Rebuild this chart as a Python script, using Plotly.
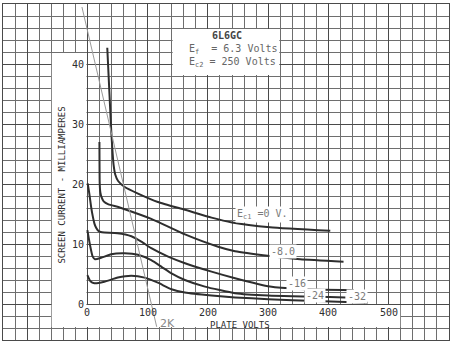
import plotly.graph_objects as go

# Screen current characteristics, 6L6GC (plate volts vs. screen mA)
v_0 = [33, 39.5, 43.5, 46.5, 51, 62, 84, 117, 162, 206, 240, 303, 403]
i_0 = [42.7, 29, 23.2, 21.5, 20.5, 19.5, 18.4, 17.0, 15.7, 14.4, 13.6, 12.8, 12.2]

v_8 = [20, 20.5, 21.5, 23.5, 27, 35, 50, 62, 106, 162, 217, 245, 303, 353, 425]
i_8 = [27, 20, 18.6, 17.8, 17.1, 16.6, 16.2, 15.8, 14.2, 11.6, 9.55, 8.8, 8.0, 7.45, 7.05]

v_16 = [0.5, 3.5, 6.2, 9, 11.7, 14.5, 17.2, 22, 28, 50, 73, 89.5, 106, 134, 162, 206, 245, 303, 350, 442]
i_16 = [20.1, 18.2, 16.2, 14.6, 13.4, 12.7, 12.3, 12.0, 11.9, 11.8, 11.3, 10.4, 9.3, 7.9, 6.8, 5.4, 4.3, 2.9, 2.5, 2.3]

v_24 = [0, 4, 8.8, 12.8, 22.8, 39.5, 61.7, 84, 106, 123, 139.5, 161.7, 195, 245, 300, 428]
i_24 = [12.3, 10.0, 7.9, 7.45, 7.7, 8.3, 8.45, 8.2, 7.3, 6.2, 5.1, 4.0, 2.9, 1.8, 1.4, 1.1]

v_32 = [0, 5, 11.7, 28, 50.5, 72.8, 95, 117, 139.5, 161.7, 206, 245, 300, 380, 465]
i_32 = [4.8, 3.8, 3.45, 3.7, 4.4, 4.7, 4.4, 3.55, 2.45, 1.9, 1.4, 1.1, 0.8, 0.5, 0.2]

# 2K load line
load_v = [-9, 115]
load_i = [49.5, -3.8]

x_ticks = [0, 100, 200, 300, 400, 500]
y_ticks = [0, 10, 20, 30, 40]

curve_labels = ["E<sub>c1</sub> =0 V.", "-8.0", "-16", "-24", "-32"]
label_v = [290, 325, 347, 378, 448]
label_i = [15.0, 8.7, 3.4, 1.5, 1.2]

INK = "#2e2e2e"
GREY_TXT = "#7a7a7a"
MONO = "DejaVu Sans Mono"

fig = go.Figure()

for vs, cs in [(v_0, i_0), (v_8, i_8), (v_16, i_16), (v_24, i_24), (v_32, i_32)]:
    fig.add_trace(go.Scatter(x=vs, y=cs, mode="lines",
                             line=dict(color=INK, width=2, shape="spline", smoothing=0.5),
                             hoverinfo="skip", showlegend=False))

fig.add_trace(go.Scatter(x=load_v, y=load_i, mode="lines",
                         line=dict(color="#9a9a9a", width=1),
                         hoverinfo="skip", showlegend=False))

# White panels over the graph paper
panels = [
    (-59, 519, -3.85, -0.15),   # x-axis label band
    (-59, -1.5, -3.85, 41.85),  # y-axis label band
    (141.5, 318.5, 38.15, 45.85),  # type data box
]
for x0, x1, y0, y1 in panels:
    fig.add_shape(type="rect", xref="x", yref="y", x0=x0, x1=x1, y0=y0, y1=y1,
                  fillcolor="white", line=dict(width=0), layer="between")

ann = []
for t in y_ticks:
    ann.append(dict(x=-2, y=t, text=str(t), xanchor="right", yanchor="middle",
                    showarrow=False, font=dict(family=MONO, size=10, color=INK)))
for t in x_ticks:
    ann.append(dict(x=t, y=-1.4, text=str(t), xanchor="center", yanchor="middle",
                    showarrow=False, font=dict(family=MONO, size=10, color=INK)))
for txt, lv, li in zip(curve_labels, label_v, label_i):
    ann.append(dict(x=lv, y=li, text=txt, xanchor="center", yanchor="middle",
                    showarrow=False, bgcolor="white", borderpad=1,
                    font=dict(family=MONO, size=10, color=GREY_TXT)))

ann += [
    dict(x=253, y=-3.5, text="PLATE VOLTS", showarrow=False, xanchor="center", yanchor="middle",
         font=dict(family=MONO, size=9, color=INK)),
    dict(x=-41.5, y=19.8, text="SCREEN CURRENT - MILLIAMPERES", textangle=-90, showarrow=False,
         xanchor="center", yanchor="middle", font=dict(family=MONO, size=9, color=INK)),
    dict(x=232, y=44.8, text="<b>6L6GC</b>", showarrow=False, xanchor="center", yanchor="middle",
         font=dict(family=MONO, size=10, color="#444")),
    dict(x=165, y=42.4, text="E<sub>f</sub>  = 6.3 Volts", showarrow=False, xanchor="left",
         yanchor="middle", font=dict(family=MONO, size=10, color="#666")),
    dict(x=165, y=40.2, text="E<sub>c2</sub> = 250 Volts", showarrow=False, xanchor="left",
         yanchor="middle", font=dict(family=MONO, size=10, color="#666")),
    dict(x=133, y=-3.2, text="2K", showarrow=False, xanchor="center", yanchor="middle",
         font=dict(family="DejaVu Sans", size=11, color="#888")),
]

fig.update_layout(
    width=455, height=348,
    margin=dict(l=3, r=6, t=4, b=8),
    paper_bgcolor="white", plot_bgcolor="white",
    annotations=ann,
    xaxis=dict(range=[-140, 600], tick0=0, dtick=100, showgrid=True,
               gridcolor="#4a4a4a", gridwidth=1, zeroline=False,
               showticklabels=False, ticks="",
               showline=True, mirror=True, linecolor="#4a4a4a", linewidth=1,
               minor=dict(dtick=20, tick0=0, showgrid=True, gridcolor="#6e6e6e", gridwidth=1)),
    yaxis=dict(range=[-6, 50], tick0=0, dtick=10, showgrid=True,
               gridcolor="#4a4a4a", gridwidth=1, zeroline=False,
               showticklabels=False, ticks="",
               showline=True, mirror=True, linecolor="#4a4a4a", linewidth=1,
               minor=dict(dtick=2, tick0=0, showgrid=True, gridcolor="#6e6e6e", gridwidth=1)),
)

fig.write_html("out.html")
